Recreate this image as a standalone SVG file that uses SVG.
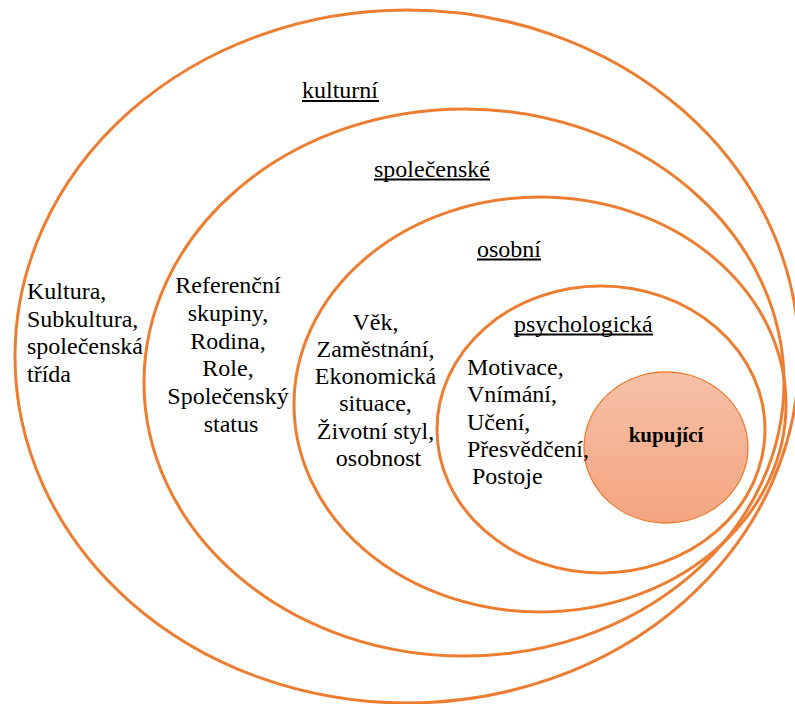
<svg xmlns="http://www.w3.org/2000/svg" width="795" height="704" viewBox="0 0 795 704">
  <defs>
    <linearGradient id="buyerFill" x1="0" y1="0" x2="0" y2="1">
      <stop offset="0" stop-color="#F6C0A8"/>
      <stop offset="1" stop-color="#F4A580"/>
    </linearGradient>
    <style>
      .ring { fill: none; stroke: #ED7D31; stroke-width: 3; }
      .buyer { fill: url(#buyerFill); stroke: #ED7D31; stroke-width: 1.3; }
      .t { font-family: 'Liberation Serif', 'Times New Roman', serif; font-size: 24px; fill: #000; }
      .c { text-anchor: middle; }
      .b { font-weight: bold; font-size: 21px; text-anchor: middle; }
      .ul { stroke: #000; stroke-width: 2; }
    </style>
  </defs>
  <rect x="0" y="0" width="795" height="704" fill="#fff"/>

  <g id="kulturni">
    <ellipse class="ring" cx="407" cy="356.5" rx="392" ry="346.5"/>
    <text class="t" x="302" y="98">kulturní</text>
    <line class="ul" x1="302" y1="101" x2="379" y2="101"/>
    <text class="t">
      <tspan x="27" y="299">Kultura,</tspan>
      <tspan x="27" y="326.6">Subkultura,</tspan>
      <tspan x="27" y="354.2">společenská</tspan>
      <tspan x="27" y="381.8">třída</tspan>
    </text>
  </g>

  <g id="spolecenske">
    <ellipse class="ring" cx="464" cy="382.5" rx="320" ry="273.5"/>
    <text class="t" x="374" y="176.5">společenské</text>
    <line class="ul" x1="374" y1="179.5" x2="490" y2="179.5"/>
    <text class="t c">
      <tspan x="231" y="293.3">Referenční</tspan>
      <tspan x="231" y="321">skupiny,</tspan>
      <tspan x="231" y="348.7">Rodina,</tspan>
      <tspan x="231" y="376.4">Role,</tspan>
      <tspan x="231" y="404.1">Společenský</tspan>
      <tspan x="231" y="431.8">status</tspan>
    </text>
  </g>

  <g id="osobni">
    <ellipse class="ring" cx="540" cy="404.5" rx="246" ry="207.5"/>
    <text class="t" x="477" y="256.5">osobní</text>
    <line class="ul" x1="477" y1="259.5" x2="541" y2="259.5"/>
    <text class="t c">
      <tspan x="378.5" y="329.5">Věk,</tspan>
      <tspan x="378.5" y="356.8">Zaměstnání,</tspan>
      <tspan x="378.5" y="384.1">Ekonomická</tspan>
      <tspan x="378.5" y="411.4">situace,</tspan>
      <tspan x="378.5" y="438.7">Životní styl,</tspan>
      <tspan x="378.5" y="466">osobnost</tspan>
    </text>
  </g>

  <g id="kupujici">
    <ellipse class="buyer" cx="666" cy="447.5" rx="82" ry="75.5"/>
    <text class="t b" x="666" y="441.5">kupující</text>
  </g>

  <g id="psychologicka">
    <ellipse class="ring" cx="601" cy="429.5" rx="164" ry="143.5"/>
    <text class="t" x="514" y="331.5">psychologická</text>
    <line class="ul" x1="514" y1="334.5" x2="653" y2="334.5"/>
    <text class="t">
      <tspan x="467" y="375">Motivace,</tspan>
      <tspan x="467" y="402.3">Vnímání,</tspan>
      <tspan x="467" y="429.6">Učení,</tspan>
      <tspan x="467" y="456.9">Přesvědčení,</tspan>
      <tspan x="472" y="484.2">Postoje</tspan>
    </text>
  </g>

  <g id="connectors"></g>
</svg>
